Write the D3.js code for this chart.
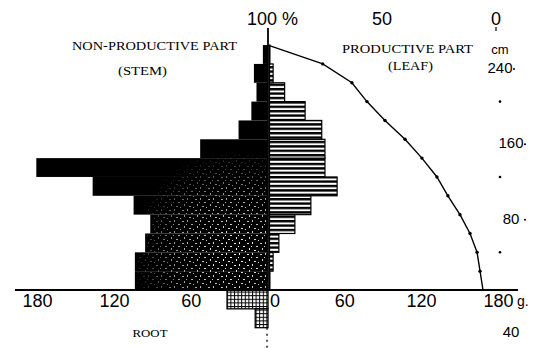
<!DOCTYPE html>
<html>
<head>
<meta charset="utf-8">
<script src="https://cdn.jsdelivr.net/npm/d3@7"></script>
<style>
  html, body { margin: 0; padding: 0; background: #fff; }
  svg { display: block; }
</style>
</head>
<body>
<script>
// Stratified clip: 20 cm layers counted from the ground up
const layerBase = [0, 20, 40, 60, 80, 100, 120, 140, 160, 180, 200, 220, 240];
const stemMass  = [104, 104, 96, 92, 105, 137, 181, 53, 23, 13, 9, 11, 4];          // g, non-productive part
const leafMass  = [1.5, 4, 8.5, 21, 33.5, 54, 44.5, 44.5, 42, 29, 13, 4, 1.5];    // g, productive part
// Root layers below ground (top of each layer, cm)
const rootTop   = [0, -20];
const rootMass  = [32, 10];
// Relative light intensity through the stand
const lightHeight = [260, 240, 220, 200, 180, 160, 140, 120, 100, 80, 60, 40, 20, 0];
const lightPct    = [100, 76, 63.2, 56.6, 48.7, 39.9, 32.5, 25.9, 21.1, 15.8, 11.4, 8.3, 7.0, 5.7];
// Tick values
const massTicks   = [-180, -120, -60, 0, 60, 120, 180];
const heightTicks = [240, 160, 80, -40];
const heightDots  = [200, 120, 40];
const lightTicks  = [100, 50, 0];

const W = 550, H = 348, LAYER = 20;

const svg = d3.select("body").append("svg")
  .attr("width", W).attr("height", H)
  .style("background", "#fff");

// Scales
const gx = d3.scaleLinear().domain([-180, 180]).range([268 - 230.4, 268 + 230.4]);
const hy = d3.scaleLinear().domain([-40, 260]).range([290 + 40 * 0.942, 290 - 260 * 0.942]);
const lx = d3.scaleLinear().domain([100, 0]).range([268, 496]);

const defs = svg.append("defs");

// Horizontal line hatching for leaves
const hatch = defs.append("pattern").attr("id", "hatch")
  .attr("patternUnits", "userSpaceOnUse").attr("width", 8).attr("height", 4.4);
hatch.append("rect").attr("width", 8).attr("height", 4.4).attr("fill", "#fff");
hatch.append("rect").attr("width", 8).attr("height", 2.4).attr("fill", "#000");

// White flecks over the dark stem mass
const speck = defs.append("pattern").attr("id", "speck")
  .attr("patternUnits", "userSpaceOnUse").attr("width", 13).attr("height", 11);
[[0, 1, 2, 1], [5, 0, 1, 2], [9, 4, 2, 1], [2, 6, 1, 2], [7, 8, 2, 1], [11, 9, 1, 1], [4, 4, 1, 1]].forEach(r =>
  speck.append("rect").attr("x", r[0]).attr("y", r[1]).attr("width", r[2]).attr("height", r[3]).attr("fill", "#fff"));

const fade = defs.append("radialGradient").attr("id", "speckFade")
  .attr("gradientUnits", "userSpaceOnUse").attr("cx", 236).attr("cy", 255).attr("r", 105);
fade.append("stop").attr("offset", 0).attr("stop-color", "#fff");
fade.append("stop").attr("offset", 0.6).attr("stop-color", "#999");
fade.append("stop").attr("offset", 1).attr("stop-color", "#000");
defs.append("mask").attr("id", "speckMask").attr("maskUnits", "userSpaceOnUse")
  .attr("x", 0).attr("y", 0).attr("width", W).attr("height", H)
  .append("rect").attr("width", W).attr("height", H).attr("fill", "url(#speckFade)");

// Fine mesh for roots
const mesh = defs.append("pattern").attr("id", "mesh")
  .attr("patternUnits", "userSpaceOnUse").attr("width", 3.6).attr("height", 3.6);
mesh.append("rect").attr("width", 3.6).attr("height", 3.6).attr("fill", "#fff");
mesh.append("rect").attr("width", 3.6).attr("height", 1).attr("fill", "#000");
mesh.append("rect").attr("width", 1).attr("height", 3.6).attr("fill", "#000");

const layers = layerBase.map((b, i) => ({ base: b, stem: stemMass[i], leaf: leafMass[i] }));

// Stem (non-productive part), drawn to the left of the axis
svg.append("g").selectAll("rect").data(layers).join("rect")
  .attr("x", d => gx(-d.stem)).attr("width", d => gx(0) - gx(-d.stem))
  .attr("y", d => hy(d.base + LAYER)).attr("height", d => hy(d.base) - hy(d.base + LAYER))
  .attr("fill", "#000");
svg.append("g").attr("mask", "url(#speckMask)").selectAll("rect").data(layers).join("rect")
  .attr("x", d => gx(-d.stem) + 2).attr("width", d => Math.max(0, gx(0) - gx(-d.stem) - 1))
  .attr("y", d => hy(d.base + LAYER)).attr("height", d => hy(d.base) - hy(d.base + LAYER))
  .attr("fill", "url(#speck)");

// Leaves (productive part), to the right
svg.append("g").selectAll("rect").data(layers).join("rect")
  .attr("x", gx(0) + 1.5).attr("width", d => Math.max(0, gx(d.leaf) - gx(0) - 1.5))
  .attr("y", d => hy(d.base + LAYER)).attr("height", d => hy(d.base) - hy(d.base + LAYER))
  .attr("fill", "url(#hatch)").attr("stroke", "#000").attr("stroke-width", 1.2);

// Roots below ground
svg.append("g").selectAll("rect").data(rootTop.map((t, i) => ({ top: t, m: rootMass[i] }))).join("rect")
  .attr("x", d => gx(-d.m)).attr("width", d => gx(0) - gx(-d.m))
  .attr("y", d => hy(d.top)).attr("height", d => hy(d.top - LAYER) - hy(d.top))
  .attr("fill", "url(#mesh)").attr("stroke", "#000").attr("stroke-width", 1.3);

// Central axis
svg.append("line").attr("x1", gx(0)).attr("x2", gx(0)).attr("y1", 28).attr("y2", hy(0))
  .attr("stroke", "#000").attr("stroke-width", 1.8);
svg.append("line").attr("x1", gx(0) - 1).attr("x2", gx(0) - 1).attr("y1", hy(-40)).attr("y2", H)
  .attr("stroke", "#000").attr("stroke-width", 1.3).attr("stroke-dasharray", "2,4");

// Ground line / mass axis
svg.append("line").attr("x1", 15).attr("x2", 518).attr("y1", hy(0)).attr("y2", hy(0))
  .attr("stroke", "#000").attr("stroke-width", 2);

const sans = "'Liberation Sans', Arial, sans-serif";
const serif = "'Liberation Serif', 'Times New Roman', serif";

// Mass tick labels (g)
svg.append("g").selectAll("text").data(massTicks).join("text")
  .attr("x", d => gx(d) + (d === 0 ? 7 : 0)).attr("y", 306.5)
  .attr("text-anchor", "middle").attr("font-family", sans).attr("font-size", 18)
  .text(d => Math.abs(d));
svg.append("text").attr("x", 517).attr("y", 306).attr("font-family", sans).attr("font-size", 14).text("g.");

// Height labels (cm) at the right
svg.append("g").selectAll("text").data(heightTicks).join("text")
  .attr("x", d => d === 240 ? 500 : 511).attr("y", d => hy(d) + 9)
  .attr("text-anchor", "middle").attr("font-family", sans).attr("font-size", 15)
  .text(d => Math.abs(d));
svg.append("g").selectAll("circle").data(heightDots).join("circle")
  .attr("cx", 500).attr("cy", d => hy(d)).attr("r", 1.3).attr("fill", "#000");
svg.append("g").selectAll("circle").data(heightTicks.filter(d => d > 0)).join("circle")
  .attr("cx", d => d === 240 ? 514 : 525).attr("cy", d => hy(d) + 5).attr("r", 1).attr("fill", "#000");
svg.append("text").attr("x", 500).attr("y", 54).attr("text-anchor", "middle")
  .attr("font-family", sans).attr("font-size", 13).text("cm");

// Light intensity scale along the top
svg.append("g").selectAll("text").data(lightTicks).join("text")
  .attr("x", d => lx(d) + (d === 100 ? -21 : 0)).attr("y", 25)
  .attr("text-anchor", d => d === 100 ? "start" : "middle")
  .attr("font-family", sans).attr("font-size", 18)
  .text(d => d === 100 ? "100 %" : d);
svg.append("line").attr("x1", lx(0)).attr("x2", lx(0)).attr("y1", 27).attr("y2", 31)
  .attr("stroke", "#000").attr("stroke-width", 1.2);

// Light extinction curve
const curvePts = lightHeight.map((h, i) => [lx(lightPct[i]), hy(h)]);
svg.append("path").datum(curvePts)
  .attr("d", d3.line())
  .attr("fill", "none").attr("stroke", "#000").attr("stroke-width", 1.4);
svg.append("g").selectAll("circle").data(curvePts.slice(1, -1)).join("circle")
  .attr("cx", d => d[0]).attr("cy", d => d[1]).attr("r", 1.7).attr("fill", "#000");

// Part labels
const label = (txt, x, y, size, len) => svg.append("text")
  .attr("x", x).attr("y", y).attr("text-anchor", "middle")
  .attr("font-family", serif).attr("font-size", size)
  .attr("textLength", len).attr("lengthAdjust", "spacingAndGlyphs")
  .text(txt);
label("NON-PRODUCTIVE PART", 154.5, 50, 13, 165);
label("(STEM)", 142.5, 74.5, 13, 49);
label("PRODUCTIVE PART", 407.5, 53, 13, 131);
label("(LEAF)", 410.5, 70, 13, 45);
label("ROOT", 150, 337, 10, 35);
</script>
</body>
</html>
